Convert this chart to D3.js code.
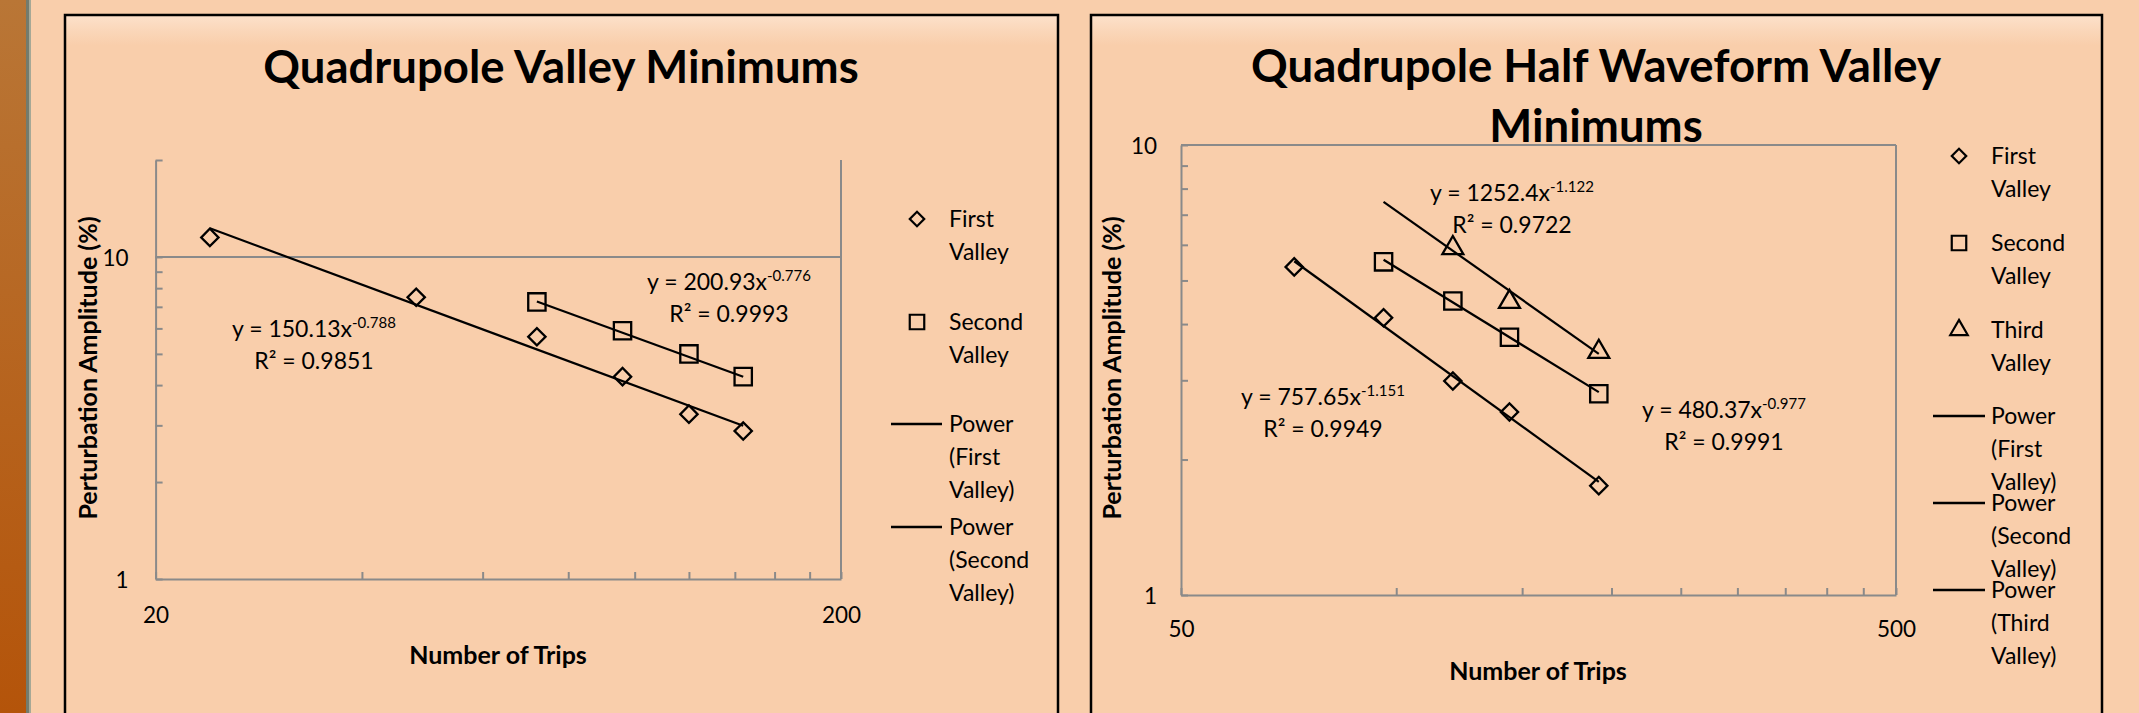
<!DOCTYPE html>
<html><head><meta charset="utf-8">
<script src="https://cdn.jsdelivr.net/npm/d3@7"></script>
<style>
html,body{margin:0;padding:0;background:#F9CEAB;overflow:hidden;}
svg{display:block;}
text{font-family:Lato,"Open Sans",sans-serif;fill:#000;}
</style></head><body>
<svg id="c" width="2139" height="713"></svg>
<script>
// ---- Chart 1: Quadrupole Valley Minimums ----
const tripsFirst1   = [24, 48, 72, 96, 120, 144];
const ampFirst1     = [11.5, 7.5, 5.65, 4.25, 3.25, 2.88];
const tripsSecond1  = [72, 96, 120, 144];
const ampSecond1    = [7.25, 5.9, 5.0, 4.25];
const coefFit1      = [150.13, 200.93];
const expFit1       = [-0.788, -0.776];
const r2Fit1        = ["0.9851", "0.9993"];
const xTicks1       = [20, 40, 60, 80, 100, 120, 140, 160, 180, 200];
const yTicks1       = [1, 2, 3, 4, 5, 6, 7, 8, 9, 10, 20];
const xLabels1      = [20, 200];
const yLabels1      = [1, 10];

// ---- Chart 2: Quadrupole Half Waveform Valley Minimums ----
const tripsFirst2   = [72, 96, 120, 144, 192];
const ampFirst2     = [5.36, 4.13, 2.99, 2.55, 1.75];
const tripsSecond2  = [96, 120, 144, 192];
const ampSecond2    = [5.5, 4.5, 3.74, 2.8];
const tripsThird2   = [120, 144, 192];
const ampThird2     = [5.9, 4.48, 3.47];
const coefFit2      = [757.65, 480.37, 1252.4];
const expFit2       = [-1.151, -0.977, -1.122];
const r2Fit2        = ["0.9949", "0.9991", "0.9722"];
const fitSpan2      = [[72, 192], [96, 192], [96, 192]];
const xTicks2       = [50, 100, 150, 200, 250, 300, 350, 400, 450, 500];
const yTicks2       = [1, 2, 3, 4, 5, 6, 7, 8, 9, 10];
const xLabels2      = [50, 500];
const yLabels2      = [1, 10];

const seriesNames   = ["First Valley", "Second Valley", "Third Valley"];

const svg = d3.select("#c");
const FONT = 23;
const AXIS_GREY = "#8A8A8A";

// page background, brown side strip
const defs = svg.append("defs");
const strip = defs.append("linearGradient").attr("id", "strip").attr("x1", 0).attr("y1", 0).attr("x2", 0).attr("y2", 1);
strip.append("stop").attr("offset", "0%").attr("stop-color", "#B97636");
strip.append("stop").attr("offset", "100%").attr("stop-color", "#B4540A");
const boxFill = defs.append("linearGradient").attr("id", "boxFill").attr("x1", 0).attr("y1", 0).attr("x2", 0).attr("y2", 1);
boxFill.append("stop").attr("offset", "0%").attr("stop-color", "#FCE1CB");
boxFill.append("stop").attr("offset", "2.2%").attr("stop-color", "#FAD6B8");
boxFill.append("stop").attr("offset", "4%").attr("stop-color", "#F9CEAB");
boxFill.append("stop").attr("offset", "100%").attr("stop-color", "#F9CEAB");

svg.append("rect").attr("width", 2139).attr("height", 713).attr("fill", "#F9CEAB");
svg.append("rect").attr("x", 0).attr("y", 0).attr("width", 26).attr("height", 713).attr("fill", "url(#strip)");
svg.append("rect").attr("x", 26).attr("y", 0).attr("width", 3).attr("height", 713).attr("fill", "#737B6D");
svg.append("rect").attr("x", 29).attr("y", 0).attr("width", 2).attr("height", 713).attr("fill", "#A6A896");

function symbolPath(kind, size) {
  const type = kind === 2 ? d3.symbolTriangle : d3.symbolSquare;
  return d3.symbol().type(type).size(size)();
}
function markerTransform(kind) {
  return kind === 0 ? " rotate(45)" : "";
}
const markerSize = [150, 300, 190];

// text centred vertically on the cap height
function capText(g, x, y, str, opts = {}) {
  const fs = opts.size || FONT;
  return g.append("text")
    .attr("x", x).attr("y", y + 0.36 * fs)
    .attr("font-size", fs)
    .attr("font-weight", opts.bold ? "bold" : "normal")
    .attr("text-anchor", opts.anchor || "start")
    .text(str);
}

function equation(g, cx, cy, a, b, r2) {
  const t = g.append("text").attr("x", cx).attr("y", cy + 0.36 * FONT)
    .attr("font-size", FONT).attr("text-anchor", "middle");
  t.append("tspan").text("y = " + a + "x");
  t.append("tspan").attr("font-size", 15).attr("dy", -9).text(b.toFixed(3));
  capText(g, cx, cy + 32, "R² = " + r2, { anchor: "middle" });
}

function drawChart(cfg) {
  // outer chart box
  svg.append("rect").attr("x", cfg.box[0]).attr("y", cfg.box[1])
    .attr("width", cfg.box[2] - cfg.box[0]).attr("height", 760)
    .attr("fill", "url(#boxFill)").attr("stroke", "#000").attr("stroke-width", 2.5);

  const p = cfg.plot;
  const x = d3.scaleLog().domain(cfg.xDomain).range([p.l, p.r]);
  const y = d3.scaleLog().domain(cfg.yDomain).range([p.b, p.t]);
  const g = svg.append("g");

  // plot-area frame lines
  if (cfg.topBorder) {
    g.append("line").attr("x1", p.l).attr("x2", p.r).attr("y1", p.t).attr("y2", p.t)
      .attr("stroke", AXIS_GREY).attr("stroke-width", 2);
  }
  g.append("line").attr("x1", p.r).attr("x2", p.r).attr("y1", p.t).attr("y2", p.b)
    .attr("stroke", AXIS_GREY).attr("stroke-width", 2);
  // major gridlines
  cfg.grid.forEach(v => {
    g.append("line").attr("x1", p.l).attr("x2", p.r).attr("y1", y(v)).attr("y2", y(v))
      .attr("stroke", AXIS_GREY).attr("stroke-width", 2);
  });

  // axes
  const xAxis = d3.axisBottom(x).tickValues(cfg.xTicks).tickSizeInner(-7).tickSizeOuter(0)
    .tickPadding(cfg.xPad).tickFormat(d => cfg.xLabels.includes(d) ? String(d) : "");
  const gx = g.append("g").attr("transform", `translate(0,${p.b})`).call(xAxis);
  const yAxis = d3.axisLeft(y).tickValues(cfg.yTicks).tickSizeInner(-7).tickSizeOuter(0)
    .tickPadding(cfg.yPad).tickFormat(d => cfg.yLabels.includes(d) ? String(d) : "");
  const gy = g.append("g").attr("transform", `translate(${p.l},0)`).call(yAxis);
  [gx, gy].forEach(a => {
    a.selectAll("path, line").attr("stroke", AXIS_GREY).attr("stroke-width", 2);
    a.selectAll("text").attr("font-size", 22.5).attr("font-family", "Lato, sans-serif").attr("fill", "#000");
  });
  gy.selectAll("text").attr("dy", "0.36em");

  // trend lines (power fits are straight on log-log axes)
  cfg.series.forEach(s => {
    const x0 = s.span[0], x1 = s.span[1];
    g.append("line")
      .attr("x1", x(x0)).attr("y1", y(s.a * Math.pow(x0, s.b)))
      .attr("x2", x(x1)).attr("y2", y(s.a * Math.pow(x1, s.b)))
      .attr("stroke", "#000").attr("stroke-width", 2.2);
  });
  // data markers
  cfg.series.forEach(s => {
    g.append("g").selectAll("path").data(s.xs.map((v, i) => [v, s.ys[i]])).join("path")
      .attr("d", symbolPath(s.kind, markerSize[s.kind]))
      .attr("transform", d => `translate(${x(d[0])},${y(d[1])})` + markerTransform(s.kind))
      .attr("fill", "none").attr("stroke", "#000").attr("stroke-width", 2.3);
  });
  // fit equations
  cfg.series.forEach(s => equation(g, s.eq[0], s.eq[1], s.a, s.b, s.r2));

  // titles
  cfg.title.forEach((line, i) => capText(g, cfg.titlePos[0], cfg.titlePos[1] + i * 60, line, { size: 45.5, bold: true, anchor: "middle" }));
  capText(g, cfg.xTitle[0], cfg.xTitle[1], "Number of Trips", { size: 25, bold: true, anchor: "middle" });
  g.append("text")
    .attr("transform", `translate(${cfg.yTitle[0] + 0.36 * 25},${cfg.yTitle[1]}) rotate(-90)`)
    .attr("font-size", 25).attr("font-weight", "bold").attr("text-anchor", "middle")
    .text("Perturbation Amplitude (%)");

  // legend
  const L = cfg.legend;
  cfg.series.forEach((s, i) => {
    const words = seriesNames[s.kind].split(" ");
    const yy = L.markerRows[i];
    g.append("path").attr("d", symbolPath(s.kind, markerSize[s.kind] * 0.7))
      .attr("transform", `translate(${L.markerX},${yy})` + markerTransform(s.kind))
      .attr("fill", "none").attr("stroke", "#000").attr("stroke-width", 2.2);
    words.forEach((w, k) => capText(g, L.textX, yy + k * L.lineGap, w));
  });
  cfg.series.forEach((s, i) => {
    const yy = L.powerRows[i];
    g.append("line").attr("x1", L.lineX[0]).attr("x2", L.lineX[1]).attr("y1", yy).attr("y2", yy)
      .attr("stroke", "#000").attr("stroke-width", 2.4);
    const words = ["Power", "(" + seriesNames[s.kind].split(" ")[0], "Valley)"];
    words.forEach((w, k) => capText(g, L.textX, yy + k * L.lineGap, w));
  });
}

drawChart({
  box: [65, 15, 1058],
  plot: { l: 155.6, r: 841, t: 160, b: 579 },
  xDomain: [20, 200], yDomain: [1, 20],
  xTicks: xTicks1, yTicks: yTicks1, xLabels: xLabels1, yLabels: yLabels1,
  xPad: 28, yPad: 27, grid: [10], topBorder: false,
  title: ["Quadrupole Valley Minimums"], titlePos: [561, 67],
  xTitle: [498, 655], yTitle: [88, 368],
  series: [
    { kind: 0, xs: tripsFirst1, ys: ampFirst1, a: coefFit1[0], b: expFit1[0], r2: r2Fit1[0], span: [24, 144], eq: [314, 329] },
    { kind: 1, xs: tripsSecond1, ys: ampSecond1, a: coefFit1[1], b: expFit1[1], r2: r2Fit1[1], span: [72, 144], eq: [729, 282] }
  ],
  legend: { markerX: 917, textX: 949, lineX: [891, 942], lineGap: 33,
            markerRows: [219, 322], powerRows: [424, 527] }
});

drawChart({
  box: [1091, 15, 2102],
  plot: { l: 1181, r: 1896, t: 145, b: 595 },
  xDomain: [50, 500], yDomain: [1, 10],
  xTicks: xTicks2, yTicks: yTicks2, xLabels: xLabels2, yLabels: yLabels2,
  xPad: 26, yPad: 24, grid: [], topBorder: true,
  title: ["Quadrupole Half Waveform Valley", "Minimums"], titlePos: [1596, 66],
  xTitle: [1538, 671], yTitle: [1112, 368],
  series: [
    { kind: 0, xs: tripsFirst2, ys: ampFirst2, a: coefFit2[0], b: expFit2[0], r2: r2Fit2[0], span: fitSpan2[0], eq: [1323, 397] },
    { kind: 1, xs: tripsSecond2, ys: ampSecond2, a: coefFit2[1], b: expFit2[1], r2: r2Fit2[1], span: fitSpan2[1], eq: [1724, 410] },
    { kind: 2, xs: tripsThird2, ys: ampThird2, a: coefFit2[2], b: expFit2[2], r2: r2Fit2[2], span: fitSpan2[2], eq: [1512, 193] }
  ],
  legend: { markerX: 1959, textX: 1991, lineX: [1933, 1985], lineGap: 33,
            markerRows: [156, 243, 330], powerRows: [416, 503, 590] }
});
</script></body></html>
